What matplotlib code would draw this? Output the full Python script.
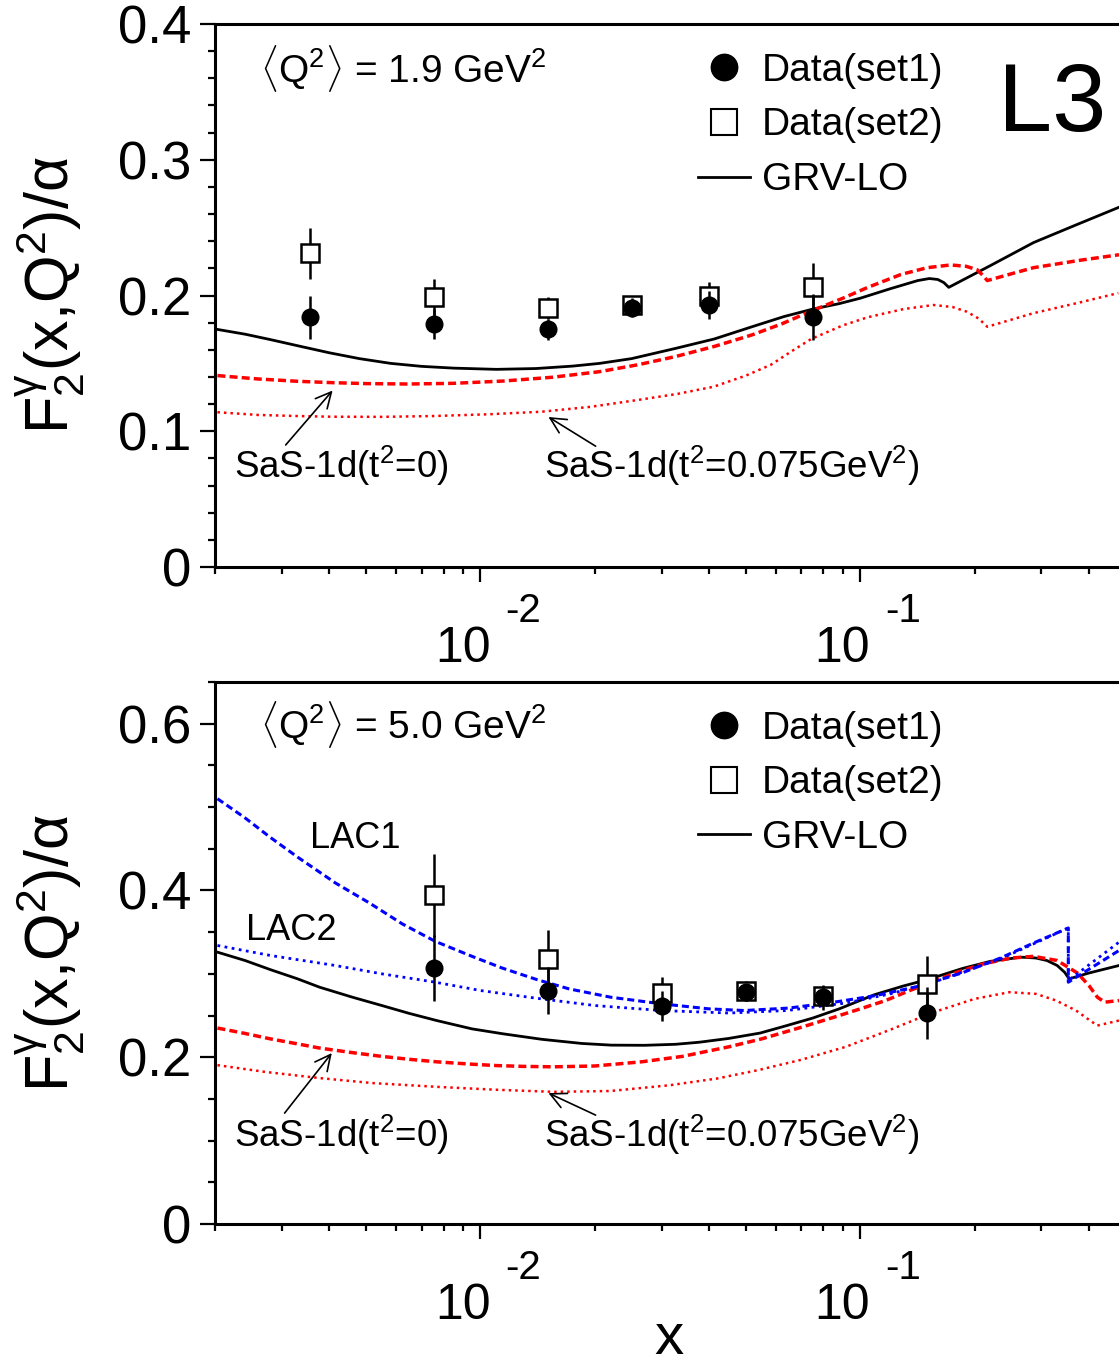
import numpy as np
import matplotlib
matplotlib.use("Agg")
import matplotlib.pyplot as plt
from matplotlib.lines import Line2D
from matplotlib.ticker import LogLocator, MultipleLocator, FuncFormatter, NullFormatter, FixedLocator

plt.rcParams['font.family'] = ['Liberation Sans', 'DejaVu Sans']
plt.rcParams['mathtext.fontset'] = 'custom'
plt.rcParams['mathtext.rm'] = 'Liberation Sans'
plt.rcParams['mathtext.it'] = 'Liberation Sans:italic'
plt.rcParams['mathtext.sf'] = 'Liberation Sans'

# ======================== data

# --- top panel, <Q2> = 1.9 GeV2
x_top = [0.00355, 0.00755, 0.0151, 0.0251, 0.040, 0.075]
set1_top = [0.184, 0.179, 0.175, 0.191, 0.193, 0.184]
set1_top_err = [0.016, 0.011, 0.008, 0.007, 0.010, 0.017]
set2_top = [0.231, 0.199, 0.191, 0.193, 0.200, 0.206]
set2_top_err = [0.019, 0.013, 0.008, 0.007, 0.010, 0.018]

grv_top_x = [0.00203, 0.0024, 0.0028, 0.0033, 0.004, 0.0048, 0.0058, 0.007, 0.0085, 0.011,
             0.014, 0.0175, 0.0206, 0.025, 0.0326, 0.0413, 0.0519, 0.063, 0.075, 0.088,
             0.1, 0.12, 0.1417, 0.152, 0.16, 0.166, 0.171, 0.22, 0.286, 0.37, 0.48]
grv_top_y = [0.175, 0.1715, 0.1675, 0.163, 0.1578, 0.1535, 0.150, 0.1478, 0.1465, 0.1456,
             0.1462, 0.148, 0.150, 0.1535, 0.161, 0.168, 0.177, 0.1845, 0.190, 0.194,
             0.198, 0.205, 0.211, 0.2125, 0.2118, 0.2095, 0.206, 0.222, 0.239, 0.252, 0.265]

sas0_top_x = [0.00203, 0.0026, 0.0033, 0.00407, 0.005, 0.00645, 0.0085, 0.0115, 0.0155, 0.0206,
              0.026, 0.0326, 0.0413, 0.0519, 0.062, 0.075, 0.09, 0.1047, 0.128, 0.15,
              0.173, 0.19, 0.203, 0.21, 0.216, 0.25, 0.286, 0.38, 0.48]
sas0_top_y = [0.141, 0.1385, 0.1368, 0.1358, 0.1351, 0.1348, 0.1353, 0.137, 0.1398, 0.1439,
              0.149, 0.155, 0.1625, 0.171, 0.179, 0.189, 0.198, 0.206, 0.2155, 0.2205,
              0.2225, 0.2215, 0.219, 0.215, 0.211, 0.216, 0.2205, 0.226, 0.230]

sas075_top_x = [0.00203, 0.0026, 0.0033, 0.00407, 0.0055, 0.0075, 0.0105, 0.0145, 0.0195, 0.0259,
                0.033, 0.0411, 0.05, 0.0582, 0.066, 0.0743, 0.09, 0.1047, 0.13, 0.156,
                0.175, 0.191, 0.205, 0.216, 0.286, 0.38, 0.478]
sas075_top_y = [0.114, 0.112, 0.1112, 0.1107, 0.1106, 0.1112, 0.1125, 0.1144, 0.118, 0.123,
                0.1275, 0.1328, 0.141, 0.149, 0.159, 0.168, 0.178, 0.184, 0.190, 0.193,
                0.1915, 0.188, 0.183, 0.177, 0.187, 0.195, 0.2018]

# --- bottom panel, <Q2> = 5.0 GeV2
x_bot = [0.00755, 0.0151, 0.0301, 0.0501, 0.0798, 0.150]
set1_bot = [0.307, 0.280, 0.262, 0.278, 0.272, 0.253]
set1_bot_err = [0.040, 0.028, 0.018, 0.010, 0.015, 0.031]
set2_bot = [0.394, 0.318, 0.277, 0.279, 0.274, 0.288]
set2_bot_err = [0.050, 0.035, 0.019, 0.012, 0.012, 0.034]

grv_bot_x = [0.00203, 0.0024, 0.0028, 0.0033, 0.00377, 0.0046, 0.0055, 0.0065, 0.00767, 0.0095,
             0.0115, 0.0145, 0.0185, 0.0221, 0.027, 0.0326, 0.0377, 0.045, 0.0545, 0.0641,
             0.075, 0.088, 0.109, 0.13, 0.15, 0.186, 0.22, 0.265, 0.29, 0.31,
             0.33, 0.345, 0.355, 0.40, 0.48]
grv_bot_y = [0.326, 0.316, 0.305, 0.294, 0.284, 0.272, 0.262, 0.2525, 0.244, 0.234,
             0.228, 0.2215, 0.2165, 0.2145, 0.2143, 0.2155, 0.218, 0.2225, 0.229, 0.238,
             0.247, 0.258, 0.275, 0.2855, 0.293, 0.3065, 0.315, 0.320, 0.319, 0.316,
             0.310, 0.302, 0.294, 0.301, 0.310]

sas0_bot_x = [0.00203, 0.0024, 0.0028, 0.0033, 0.00377, 0.0046, 0.0055, 0.0065, 0.00767, 0.0092,
              0.011, 0.013, 0.01556, 0.02, 0.02655, 0.034, 0.0451, 0.055, 0.07, 0.0853,
              0.1, 0.1166, 0.135, 0.156, 0.18, 0.211, 0.25, 0.286, 0.33, 0.373,
              0.40, 0.421, 0.44, 0.48]
sas0_bot_y = [0.235, 0.2285, 0.222, 0.216, 0.211, 0.2055, 0.201, 0.1975, 0.1945, 0.192,
              0.190, 0.189, 0.1885, 0.1895, 0.1945, 0.201, 0.2125, 0.222, 0.236, 0.248,
              0.258, 0.268, 0.280, 0.291, 0.302, 0.312, 0.319, 0.321, 0.316, 0.301,
              0.286, 0.272, 0.266, 0.268]

sas075_bot_x = [0.00203, 0.0027, 0.00377, 0.0052, 0.00767, 0.011, 0.01556, 0.022, 0.0316, 0.042,
                0.0538, 0.07, 0.0916, 0.12, 0.156, 0.2, 0.247, 0.29, 0.328, 0.37,
                0.40, 0.421, 0.48]
sas075_bot_y = [0.1905, 0.1825, 0.175, 0.169, 0.1645, 0.161, 0.1585, 0.1595, 0.1665, 0.1745,
                0.1845, 0.197, 0.2125, 0.233, 0.254, 0.270, 0.278, 0.276, 0.268, 0.256,
                0.245, 0.238, 0.244]

lac1_x = [0.00203, 0.0024, 0.00279, 0.0033, 0.00415, 0.0051, 0.00622, 0.0076, 0.0095, 0.0114,
          0.0141, 0.0171, 0.022, 0.030, 0.04, 0.0495, 0.065, 0.0853, 0.11, 0.142,
          0.185, 0.234, 0.286, 0.353, 0.353, 0.48]
lac1_y = [0.510, 0.487, 0.464, 0.440, 0.409, 0.385, 0.360, 0.339, 0.321, 0.307,
          0.293, 0.282, 0.272, 0.264, 0.258, 0.256, 0.259, 0.266, 0.274, 0.285,
          0.301, 0.319, 0.337, 0.355, 0.290, 0.328]

lac2_x = [0.00203, 0.0028, 0.00415, 0.0055, 0.0076, 0.01, 0.0139, 0.02, 0.030, 0.0451,
          0.0641, 0.0916, 0.12, 0.156, 0.234, 0.286, 0.353, 0.353, 0.48]
lac2_y = [0.334, 0.322, 0.310, 0.300, 0.290, 0.280, 0.271, 0.262, 0.256, 0.253,
          0.256, 0.265, 0.276, 0.290, 0.318, 0.336, 0.355, 0.292, 0.338]

# annotation anchors (data coords)
top_arrow_heads = [(0.00408, 0.130), (0.0151, 0.1105)]
top_arrow_tails = [(0.00307, 0.0899), (0.0201, 0.089)]
bot_arrow_heads = [(0.00406, 0.205), (0.0151, 0.157)]
bot_arrow_tails = [(0.00305, 0.133), (0.0201, 0.1306)]
sas_labels = [r'SaS-1d(t$^2$=0)', r'SaS-1d(t$^2$=0.075GeV$^2$)']
sas_label_x = [0.00225, 0.0147]

decade_ticks = [0.01, 0.1]
decade_exp = ['-2', '-1']


def setup(ax, ymax, major, minor):
    ax.set_xscale('log')
    ax.set_xlim(0.002, 0.48)
    ax.set_ylim(0, ymax)
    ax.spines['right'].set_visible(False)
    for s in ax.spines.values():
        s.set_linewidth(2.2)
    ax.xaxis.set_major_locator(FixedLocator(decade_ticks))
    ax.xaxis.set_minor_locator(LogLocator(base=10, subs=np.arange(2, 10)))
    ax.xaxis.set_major_formatter(NullFormatter())
    ax.xaxis.set_minor_formatter(NullFormatter())
    ax.yaxis.set_major_locator(MultipleLocator(major))
    ax.yaxis.set_minor_locator(MultipleLocator(minor))
    ax.yaxis.set_major_formatter(FuncFormatter(lambda v, p: '0' if abs(v) < 1e-9 else '%.1f' % v))
    ax.tick_params(which='major', length=11, width=1.6, labelsize=38, pad=6,
                   direction='out', top=False, right=False)
    ax.tick_params(which='minor', length=5, width=1.6, direction='out', top=False, right=False)
    for xv, ex in zip(decade_ticks, decade_exp):
        ax.annotate('10', xy=(xv, 0), xycoords=('data', 'axes fraction'), xytext=(10, -95),
                    textcoords='offset pixels', ha='right', va='baseline', fontsize=36)
        ax.annotate(ex, xy=(xv, 0), xycoords=('data', 'axes fraction'), xytext=(25, -55),
                    textcoords='offset pixels', ha='left', va='baseline', fontsize=29)
    ax.set_ylabel(r'$\mathregular{F_2^{\gamma}(x{,}Q^2)/\alpha}$', fontsize=44)
    ax.yaxis.set_label_coords(-0.14, 0.5)


def data_points(ax, xs, y1, e1, y2, e2):
    ax.errorbar(xs, y2, yerr=e2, fmt='s', ms=13.5, mfc='white', mec='k', mew=1.8,
                ecolor='k', elinewidth=1.8, capsize=0, zorder=5)
    ax.errorbar(xs, y1, yerr=e1, fmt='o', ms=12, color='k',
                ecolor='k', elinewidth=1.8, capsize=0, zorder=6)


def legend(ax):
    handles = [Line2D([], [], ls='none', marker='o', ms=19, color='k'),
               Line2D([], [], ls='none', marker='s', ms=19, mfc='white', mec='k', mew=1.5),
               Line2D([], [], color='k', lw=2)]
    ax.legend(handles, ['Data(set1)', 'Data(set2)', 'GRV-LO'], loc='upper left',
              bbox_to_anchor=(0.534, 0.947), frameon=False, fontsize=28, handlelength=1.34,
              handletextpad=0.31, labelspacing=0.48, borderpad=0, borderaxespad=0)


def sas_notes(ax, heads, tails, ybase):
    for h, t in zip(heads, tails):
        ax.annotate('', xy=h, xytext=t,
                    arrowprops=dict(arrowstyle='->', lw=1.2, color='k', mutation_scale=28,
                                    shrinkA=0, shrinkB=0))
    for lab, xl in zip(sas_labels, sas_label_x):
        ax.text(xl, ybase, lab, fontsize=26.5, ha='left', va='baseline')


fig = plt.figure(figsize=(11.19, 13.67), dpi=100)
ax1 = fig.add_axes([215 / 1119, 1 - 567 / 1367, 904 / 1119, 543 / 1367])
ax2 = fig.add_axes([215 / 1119, 1 - 1224 / 1367, 904 / 1119, 542 / 1367])

red = '#ff0000'
blue = '#0000ff'

# ---------- top panel
setup(ax1, 0.4, 0.1, 0.02)
ax1.plot(grv_top_x, grv_top_y, color='k', lw=2.0)
ax1.plot(sas0_top_x, sas0_top_y, color=red, lw=2.5, dashes=(2.3, 1.2))
ax1.plot(sas075_top_x, sas075_top_y, color=red, lw=1.8, dashes=(1, 1.6))
data_points(ax1, x_top, set1_top, set1_top_err, set2_top, set2_top_err)
legend(ax1)
ax1.text(0.05, 0.893, r'$\langle$Q$^2$$\rangle$ = 1.9 GeV$^2$', transform=ax1.transAxes,
         fontsize=28, va='baseline')
ax1.text(0.866, 0.803, 'L3', transform=ax1.transAxes, fontsize=70, va='baseline')
sas_notes(ax1, top_arrow_heads, top_arrow_tails, 0.0656)

# ---------- bottom panel
setup(ax2, 0.65, 0.2, 0.05)
ax2.plot(grv_bot_x, grv_bot_y, color='k', lw=2.0)
ax2.plot(sas0_bot_x, sas0_bot_y, color=red, lw=2.5, dashes=(2.3, 1.2))
ax2.plot(sas075_bot_x, sas075_bot_y, color=red, lw=1.8, dashes=(1, 1.6))
ax2.plot(lac1_x, lac1_y, color=blue, lw=2.2, dashes=(2.3, 1.3))
ax2.plot(lac2_x, lac2_y, color=blue, lw=2.0, dashes=(1, 1.6))
data_points(ax2, x_bot, set1_bot, set1_bot_err, set2_bot, set2_bot_err)
legend(ax2)
ax2.text(0.05, 0.895, r'$\langle$Q$^2$$\rangle$ = 5.0 GeV$^2$', transform=ax2.transAxes,
         fontsize=28, va='baseline')
ax2.text(0.00355, 0.4506, 'LAC1', fontsize=26, va='baseline')
ax2.text(0.00241, 0.340, 'LAC2', fontsize=26, va='baseline')
sas_notes(ax2, bot_arrow_heads, bot_arrow_tails, 0.0923)
ax2.text(0.502, -0.240, 'x', transform=ax2.transAxes, fontsize=42, ha='center', va='baseline')

fig.savefig('out.png', dpi=100)
